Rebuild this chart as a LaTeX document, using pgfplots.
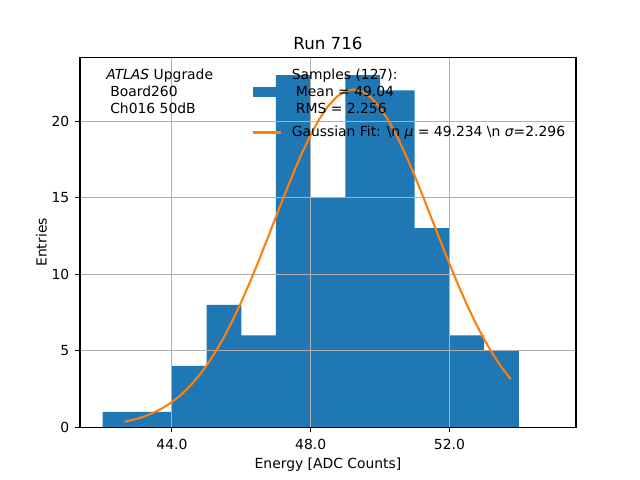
\documentclass[border=0pt]{standalone}
\usepackage{fontspec}
\setmainfont{DejaVu Sans}
\usepackage{pgfplots}
\pgfplotsset{compat=1.18}
\definecolor{mplblue}{HTML}{1F77B4}
\definecolor{mplorange}{HTML}{FF7F0E}
\definecolor{gridgray}{HTML}{B0B0B0}
\newcommand{\tenbp}{\fontsize{10bp}{12bp}\selectfont}
\begin{document}
\begin{tikzpicture}
\begin{axis}[
  set layers,
  at={(57.6bp,38.016bp)}, anchor=south west,
  scale only axis, width=357.12bp, height=266.112bp,
  xmin=41.35, xmax=55.65, ymin=0, ymax=24.15,
  xtick={44,48,52}, xticklabels={44.0,48.0,52.0},
  ytick={0,5,10,15,20},
  grid=major, grid style={gridgray, line width=0.8bp},
  axis line style={line width=0.8bp},
  tick style={black, line width=0.8bp},
  tick align=outside, major tick length=3.5bp,
  tick pos=left,
  /pgf/number format/assume math mode=true,
  tick label style={font=\tenbp},
  xticklabel style={inner sep=0pt, yshift=-5bp},
  yticklabel style={inner sep=0pt, xshift=-4bp},
  xlabel={Energy [ADC Counts]}, ylabel={Entries},
  label style={font=\tenbp},
  xlabel style={yshift=-2bp},
  title={Run 716},
  title style={font=\fontsize{12bp}{14bp}\selectfont, inner sep=0pt, anchor=base},
  legend cell align=left,
  legend style={draw=none, fill=none, font=\tenbp, inner sep=0pt,
    at={(123.8bp,260bp)}, anchor=north west, row sep=4bp,
    cells={anchor=west, align=left, font=\tenbp}},
]
\addplot[on layer=axis background, ybar interval, fill=mplblue, draw=none,
  legend image code/.code={\fill[mplblue] (0bp,-3.5bp) rectangle (20bp,3.5bp); \path (25bp,0bp);}]
  coordinates {
  (42,1) (43,1) (44,4) (45,8) (46,6) (47,23) (48,15) (49,23)
  (50,22) (51,13) (52,6) (53,5) (54,5)
};
\addlegendentry{Samples (127):\\\hspace{0.3em}Mean = 49.04\\\hspace{0.3em}RMS = 2.256}
\addplot[mplorange, line width=1.5bp, no marks,
  legend image code/.code={\draw[mplorange, line width=1.5bp] (0bp,0bp) -- (20bp,0bp); \path (25bp,0bp);}]
  coordinates {
  (42.64,0.357) (42.75,0.409) (43.0,0.553) (43.25,0.739) (43.5,0.976)
  (43.75,1.274) (44.0,1.642) (44.25,2.092) (44.5,2.634) (44.75,3.279)
  (45.0,4.030) (45.25,4.898) (45.5,5.881) (45.75,6.979) (46.0,8.185)
  (46.25,9.485) (46.5,10.862) (46.75,12.293) (47.0,13.748) (47.25,15.193)
  (47.5,16.595) (47.75,17.910) (48.0,19.102) (48.25,20.134) (48.5,20.970)
  (48.75,21.585) (49.0,21.956) (49.234,22.070) (49.5,21.922) (49.75,21.520)
  (50.0,20.875) (50.25,20.012) (50.5,18.957) (50.75,17.748) (51.0,16.419)
  (51.25,15.010) (51.5,13.561) (51.75,12.108) (52.0,10.682) (52.25,9.313)
  (52.5,8.024) (52.75,6.833) (53.0,5.749) (53.25,4.780) (53.5,3.928)
  (53.75,3.189) (53.77,3.135)
};
\addlegendentry{Gaussian Fit: \textbackslash n {\itshape μ} = 49.234 \textbackslash n {\itshape σ}=2.296}
\end{axis}
\node[anchor=base west, align=left, font=\tenbp, inner sep=0pt] at (76.3bp,288.5bp)
  {{\itshape ATLAS} Upgrade};
\node[anchor=base west, font=\tenbp, inner sep=0pt] at (79.2bp,276.0bp) {Board260};
\node[anchor=base west, font=\tenbp, inner sep=0pt] at (79.2bp,264.0bp) {Ch016 50dB};
\pgfresetboundingbox
\path (0,0) rectangle (460.8bp,345.6bp);
\end{tikzpicture}
\end{document}
